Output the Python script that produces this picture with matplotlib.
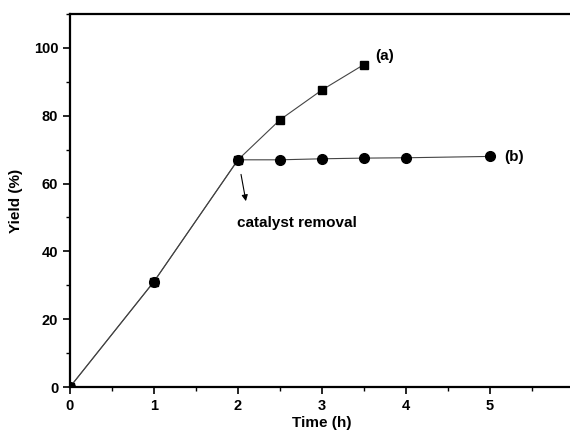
import matplotlib
matplotlib.use("Agg")
import matplotlib.pyplot as plt
from matplotlib.ticker import MultipleLocator

plt.rcParams['font.family'] = ['Liberation Sans', 'DejaVu Sans']
plt.rcParams['font.weight'] = 'bold'

# curve (a): catalyst kept in
time_a = [0, 1, 2, 2.5, 3, 3.5]
yield_a = [0, 31.1, 67.0, 78.8, 87.6, 95.1]

# curve (b): catalyst removed at 2 h
time_b = [0, 1, 2, 2.5, 3, 3.5, 4, 5]
yield_b = [0, 31.1, 67.0, 67.0, 67.3, 67.5, 67.6, 68.0]

fig = plt.figure(figsize=(5.7, 4.36), dpi=100)
ax = fig.add_axes([70 / 570, 49 / 436, 504 / 570, 373 / 436])

ax.plot(time_a, yield_a, color='#444444', lw=0.8, marker='s', ms=6,
        mfc='black', mec='black')
ax.plot(time_b, yield_b, color='#444444', lw=0.8, marker='o', ms=7,
        mfc='black', mec='black')

ax.text(3.63, 97.5, '(a)', fontsize=11, fontweight='bold', va='center')
ax.text(5.17, 67.7, '(b)', fontsize=11, fontweight='bold', va='center')

ax.annotate('', xy=(2.1, 54.0), xytext=(2.03, 63.5),
            arrowprops=dict(arrowstyle='-|>', color='black', lw=0.8,
                            mutation_scale=9))
ax.text(1.99, 48.5, 'catalyst removal', fontsize=11, fontweight='bold',
        va='center')

ax.set_xlim(0, 6)
ax.set_ylim(0, 110)
ax.xaxis.set_major_locator(MultipleLocator(1))
ax.xaxis.set_minor_locator(MultipleLocator(0.5))
ax.yaxis.set_major_locator(MultipleLocator(20))
ax.yaxis.set_minor_locator(MultipleLocator(10))
ax.set_xticks([0, 1, 2, 3, 4, 5])

ax.tick_params(which='major', direction='out', length=5, width=1.2,
               labelsize=10.5)
ax.tick_params(which='minor', direction='out', length=3, width=1.0)
for lab in ax.get_xticklabels() + ax.get_yticklabels():
    lab.set_fontweight('bold')

for side in ['left', 'bottom', 'top']:
    ax.spines[side].set_linewidth(1.6)
ax.spines['right'].set_visible(False)

ax.set_xlabel('Time (h)', fontsize=11, fontweight='bold', labelpad=2)
ax.set_ylabel('Yield (%)', fontsize=11, fontweight='bold', labelpad=8)

fig.savefig('out.png', dpi=100)
